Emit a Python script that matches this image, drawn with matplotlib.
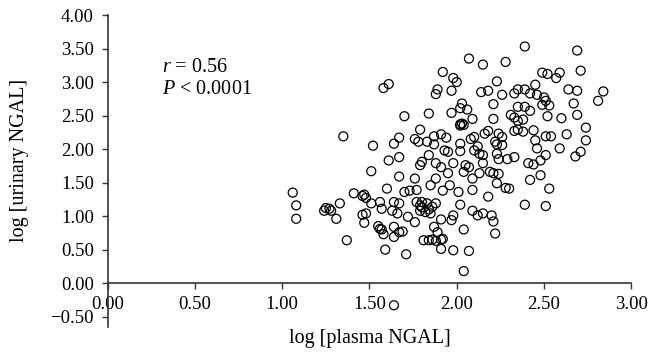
"""Scatter of log urinary NGAL against log plasma NGAL (r = 0.56)."""

import matplotlib

matplotlib.use("Agg")
import matplotlib.pyplot as plt  # noqa: E402

plt.rcParams["font.family"] = ["Liberation Serif", "DejaVu Serif"]
plt.rcParams["mathtext.fontset"] = "custom"
plt.rcParams["mathtext.rm"] = "Liberation Serif"
plt.rcParams["mathtext.it"] = "Liberation Serif:italic"

# log [plasma NGAL]
PLASMA = [
    1.58, 1.61, 1.35, 1.52, 1.64, 1.67,
    2.07, 2.15, 2.28, 1.92, 1.98, 2.00, 1.89, 1.88, 1.97, 2.14, 2.18, 2.23,
    2.26, 2.21, 1.70, 1.84, 1.97, 2.03, 2.02, 2.06, 2.09, 2.21,
    2.02, 2.03, 2.04, 2.02,
    1.79, 1.67, 1.76, 1.78, 1.83, 1.87, 1.91, 1.94, 1.87, 2.02, 2.08, 2.10,
    2.16, 2.18, 2.22, 2.26, 2.23, 1.93, 1.95, 2.02, 2.10, 2.15, 1.84, 2.12, 2.13,
    2.39, 2.69, 2.49, 2.52, 2.59, 2.57, 2.71, 2.45, 2.35, 2.33, 2.39, 2.42,
    2.46, 2.50, 2.51, 2.49, 2.53, 2.64, 2.69, 2.84, 2.81, 2.67, 2.35, 2.39,
    2.42, 2.31, 2.33, 2.35, 2.38, 2.52, 2.60, 2.69, 2.74, 2.35, 2.33, 2.38,
    2.44, 2.51, 2.54, 2.63, 2.74, 2.45, 2.46, 2.59, 2.71, 2.68, 2.51,
    2.23, 2.24, 2.26, 2.24, 2.29, 2.33, 2.19,
    2.42, 2.48, 2.53, 2.39, 2.51, 2.30, 2.28, 2.41, 2.44, 2.48,
    1.51, 1.61, 1.06, 1.08, 1.08, 1.25, 1.24, 1.27, 1.28, 1.33, 1.31, 1.37,
    1.41, 1.46, 1.47, 1.48, 1.51, 1.56, 1.57, 1.60, 1.64, 1.63, 1.46, 1.48,
    1.47, 1.55, 1.56, 1.57, 1.58, 1.59, 1.64, 1.64,
    1.79, 1.80, 1.88, 1.91, 1.98, 2.05, 2.07, 2.15, 1.67, 1.76, 1.88, 1.95,
    2.04, 2.09, 2.13, 2.21, 2.24, 2.23, 1.85, 1.96, 1.70, 1.73, 1.77, 1.92,
    2.01, 2.09, 2.18, 1.67, 1.77, 1.80, 1.79, 1.83, 1.86, 1.88, 2.02, 1.80,
    1.84, 1.66, 1.72, 1.79, 1.82, 1.85, 1.76, 1.91, 1.98, 1.97, 2.09, 2.12,
    2.15, 2.20, 2.21, 1.67, 1.69, 1.87, 1.89, 2.04, 2.22, 1.81, 1.84,
    1.86, 1.88, 1.91, 1.92, 1.91, 1.98, 2.07, 1.71, 2.04, 1.64,
]

# log [urinary NGAL]
URINARY = [
    2.91, 2.97, 2.19, 2.05, 2.08, 1.88,
    3.35, 3.26, 3.30, 3.15, 3.06, 3.00, 2.89, 2.82, 2.87, 2.85, 2.87, 3.01,
    2.81, 2.67, 2.49, 2.53, 2.54, 2.68, 2.61, 2.59, 2.45, 2.45,
    2.37, 2.38, 2.36, 2.35,
    2.29, 2.17, 2.15, 2.11, 2.11, 2.19, 2.22, 2.17, 2.07, 2.08, 2.15, 2.18,
    2.23, 2.27, 2.11, 2.06, 1.93, 1.98, 1.96, 1.97, 1.98, 1.91, 1.91, 2.04, 1.93,
    3.53, 3.47, 3.14, 3.12, 3.14, 3.06, 3.17, 2.96, 2.89, 2.83, 2.89, 2.83,
    2.81, 2.77, 2.72, 2.66, 2.65, 2.89, 2.87, 2.86, 2.72, 2.68, 2.63, 2.63,
    2.57, 2.51, 2.47, 2.42, 2.44, 2.49, 2.46, 2.51, 2.32, 2.29, 2.27, 2.26,
    2.28, 2.19, 2.19, 2.22, 2.13, 2.13, 2.01, 2.01, 1.96, 1.89, 1.91,
    2.07, 2.23, 2.18, 1.85, 1.85, 1.88, 1.66,
    1.54, 1.61, 1.41, 1.17, 1.15, 1.41, 1.42, 1.79, 1.77, 1.83,
    1.67, 1.83, 1.35, 1.16, 0.96, 1.12, 1.08, 1.11, 1.08, 1.19, 0.96, 0.64,
    1.34, 1.30, 1.32, 1.27, 1.19, 1.21, 1.11, 1.41, 1.21, 1.08, 1.02, 1.04,
    0.90, 0.85, 0.81, 0.80, 0.73, 0.50, 0.84, 0.69,
    1.76, 1.81, 1.79, 1.73, 1.79, 1.76, 1.73, 1.79, 1.59, 1.56, 1.56, 1.64,
    1.66, 1.56, 1.64, 1.64, 1.63, 1.49, 1.46, 1.46, 1.36, 1.38, 1.39, 1.38,
    1.36, 1.39, 1.29, 1.19, 1.21, 1.21, 1.16, 1.19, 1.14, 1.19, 1.17, 1.13,
    1.10, 1.04, 0.99, 1.08, 1.06, 1.04, 0.91, 0.95, 1.01, 0.94, 1.08, 1.01,
    1.04, 1.01, 0.92, 0.76, 0.77, 0.84, 0.76, 0.80, 0.74, 0.64, 0.64,
    0.65, 0.63, 0.65, 0.66, 0.51, 0.49, 0.48, 0.43, 0.18, -0.33,
]

X_TICKS = [0.0, 0.5, 1.0, 1.5, 2.0, 2.5, 3.0]
Y_TICKS = [-0.5, 0.0, 0.5, 1.0, 1.5, 2.0, 2.5, 3.0, 3.5, 4.0]

fig = plt.figure(figsize=(6.61, 3.53), dpi=100)
ax = fig.add_axes([0.163, 0.0745, 0.792, 0.883])

ax.scatter(PLASMA, URINARY, s=42, facecolors="none", edgecolors="black",
           linewidths=0.9, zorder=3)

ax.set_xlim(0, 3.0)
ax.set_ylim(-0.65, 4.0)
ax.set_xticks(X_TICKS)
ax.set_yticks(Y_TICKS)
ax.set_xticklabels([f"{v:.2f}" for v in X_TICKS])
ax.set_yticklabels([f"{v:.2f}" if v >= 0 else f"\u2212{abs(v):.2f}" for v in Y_TICKS])

for side in ("top", "right"):
    ax.spines[side].set_visible(False)
ax.spines["bottom"].set_position(("data", 0))
for side in ("left", "bottom"):
    ax.spines[side].set_color("#333333")
    ax.spines[side].set_linewidth(1.2)

ax.tick_params(axis="both", direction="out", length=4, width=1.0,
               color="#333333", labelsize=13.5)
ax.tick_params(axis="y", pad=6)
ax.tick_params(axis="x", pad=5)

fig.text(20 / 661, 1 - 160 / 353, "log [urinary NGAL]", rotation=90,
         ha="center", va="center", fontsize=14.5)
fig.text(369.5 / 661, 1 - 338 / 353, "log [plasma NGAL]",
         ha="center", va="center", fontsize=14.5)

ax.text(0.31, 3.21, "$r$ = 0.56", fontsize=14.5, va="center")
ax.text(0.31, 2.895, "$P$ < 0.0001", fontsize=14.5, va="center")

fig.savefig("out.png", dpi=100)
